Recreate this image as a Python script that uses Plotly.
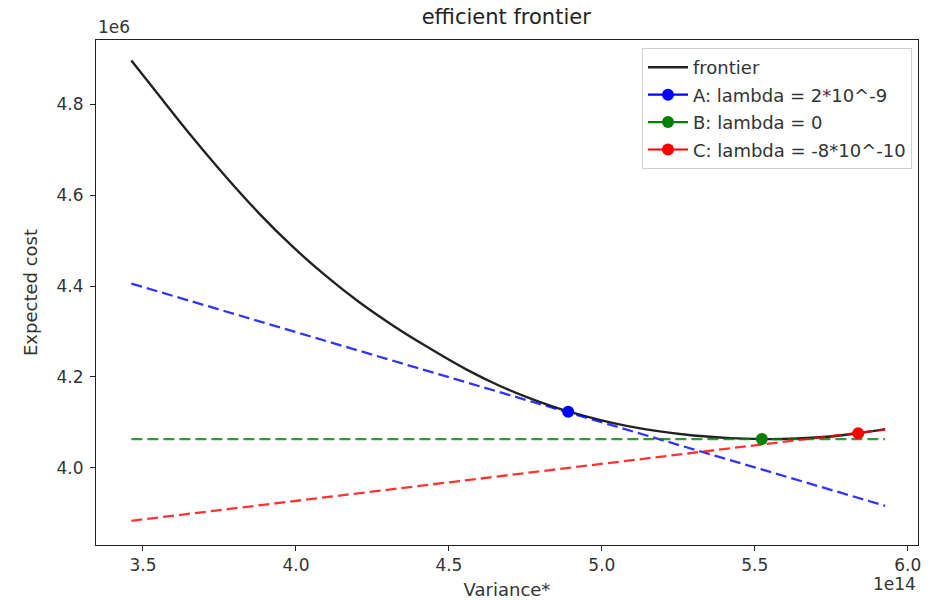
import plotly.graph_objects as go

# Frontier (variance in 1e14 units, expected cost in 1e6 units)
frontier_var = [3.462, 3.550, 3.659, 3.768, 3.877, 3.986, 4.095, 4.204, 4.313, 4.422,
                4.558, 4.667, 4.776, 4.890, 5.081, 5.299, 5.523, 5.735, 5.838, 5.926]
frontier_cost = [4.897, 4.822, 4.730, 4.643, 4.562, 4.489, 4.424, 4.366, 4.315, 4.269,
                 4.216, 4.180, 4.150, 4.124, 4.092, 4.071, 4.063, 4.068, 4.076, 4.085]

point_names = ["A: lambda = 2*10^-9", "B: lambda = 0", "C: lambda = -8*10^-10"]
point_var = [4.890, 5.523, 5.838]
point_cost = [4.123, 4.063, 4.076]
point_colors = ["#0000ff", "#008000", "#ff0000"]

# Tangent lines: endpoints (variance, cost)
line_var = [3.462, 5.926]
tangent_cost = {
    "A": [4.4055, 3.916],
    "B": [4.063, 4.063],
    "C": [3.883, 4.084],
}
line_colors = {"A": "rgba(0,0,255,0.8)", "B": "rgba(0,128,0,0.8)", "C": "rgba(255,0,0,0.8)"}

SX, SY = 1e14, 1e6
x_ticks = [3.5, 4.0, 4.5, 5.0, 5.5, 6.0]
y_ticks = [4.0, 4.2, 4.4, 4.6, 4.8]

fig = go.Figure()

fig.add_trace(go.Scatter(
    x=[v * SX for v in frontier_var], y=[c * SY for c in frontier_cost],
    mode="lines", name="frontier", legendgroup="f",
    line=dict(color="#222222", width=2.4, shape="spline", smoothing=0.8),
))

for key in ["A", "B", "C"]:
    fig.add_trace(go.Scatter(
        x=[v * SX for v in line_var], y=[c * SY for c in tangent_cost[key]],
        mode="lines", showlegend=False,
        line=dict(color=line_colors[key], width=2.3, dash="11px,5px"),
    ))

for i, (name, v, c, col) in enumerate(zip(point_names, point_var, point_cost, point_colors)):
    fig.add_trace(go.Scatter(
        x=[v * SX], y=[c * SY], mode="lines+markers", name=name, legendgroup=f"p{i}",
        line=dict(color=col, width=2.2), marker=dict(color=col, size=12),
    ))

font = "DejaVu Sans, Liberation Sans, sans-serif"
fig.update_layout(
    width=933, height=600,
    margin=dict(l=96, r=15, t=40, b=55, autoexpand=False),
    plot_bgcolor="white", paper_bgcolor="white",
    font=dict(family=font, size=17, color="#333333"),
    title=dict(text="efficient frontier", x=0.5426, xanchor="center", y=0.972, yanchor="middle",
               font=dict(size=21, color="#222222")),
    showlegend=True,
    legend=dict(x=0.9927, xanchor="right", y=0.984, yanchor="top",
                bordercolor="#d0d0d0", borderwidth=1, bgcolor="rgba(255,255,255,0.85)",
                font=dict(size=18, color="#333333"), tracegroupgap=1,
                itemwidth=40),
)
fig.update_xaxes(
    range=[3.3464 * SX, 6.0334 * SX], automargin=False,
    tickvals=[t * SX for t in x_ticks], ticktext=[f"{t:.1f}" for t in x_ticks],
    showline=True, linecolor="#222222", linewidth=1, mirror=True,
    ticks="outside", ticklen=5, tickcolor="#222222", showgrid=False, zeroline=False,
    title=dict(text="Variance*", standoff=12, font=dict(size=18)),
)
fig.update_yaxes(
    range=[3.8297 * SY, 4.9421 * SY], automargin=False,
    tickvals=[t * SY for t in y_ticks], ticktext=[f"{t:.1f}" for t in y_ticks],
    showline=True, linecolor="#222222", linewidth=1, mirror=True,
    ticks="outside", ticklen=5, tickcolor="#222222", showgrid=False, zeroline=False,
    ticklabelstandoff=3,
    title=dict(text="Expected cost", standoff=14, font=dict(size=18)),
)
fig.add_annotation(text="1e6", xref="paper", yref="paper", x=0, y=1, xanchor="left",
                   yanchor="bottom", showarrow=False, font=dict(size=17, color="#333333"), yshift=1)
fig.add_annotation(text="1e14", xref="paper", yref="paper", x=1, y=0, xanchor="right",
                   yanchor="top", showarrow=False, font=dict(size=17, color="#333333"), yshift=-27)

fig.write_html("out.html")
